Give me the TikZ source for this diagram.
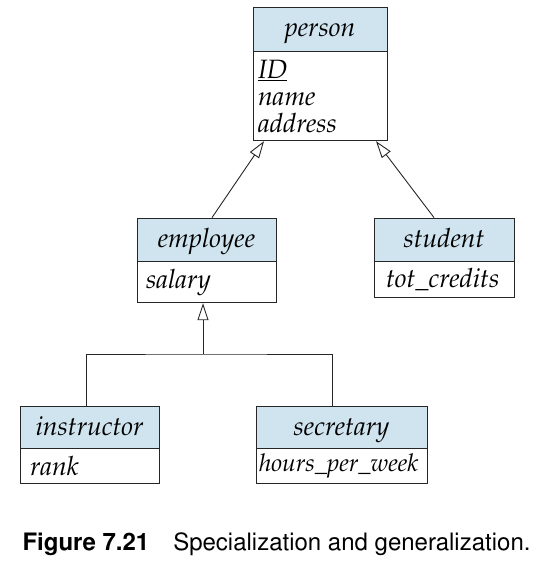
\documentclass[tikz,border=0pt]{standalone}
\usepackage[T1]{fontenc}
\renewcommand{\rmdefault}{ppl}
\renewcommand{\sfdefault}{phv}
\usepackage{tikz}
\usetikzlibrary{arrows.meta}

\definecolor{headblue}{RGB}{208,228,239}
\tikzset{
  entity/.style={draw=black!85, line width=0.8pt, fill=headblue, inner sep=0pt,
    text height=20pt, text depth=4pt, font=\fontsize{26.5}{27}\selectfont\itshape},
  attrs/.style={draw=black!85, line width=0.8pt, fill=white, anchor=north west,
    align=left, inner ysep=0pt, font=\fontsize{26.5}{27}\selectfont\itshape},
  isa/.style={draw=black!85, line width=0.9pt, -{Triangle[open,length=17pt,width=11pt]}},
  link/.style={draw=black!85, line width=0.9pt}
}

\begin{document}
\begin{tikzpicture}[x=1pt,y=-1pt]
    \useasboundingbox (0,0) rectangle (536,561);

    \node[entity, minimum width=134pt, minimum height=44pt] (person) at (320,29) {person};
    \node[attrs, inner xsep=5pt, text width=124pt, minimum height=89pt] (personattr) at (person.south west) {\underline{ID}\\name\\address};

    \node[entity, minimum width=139pt, minimum height=43pt] (employee) at (206.5,239.5) {employee};
    \node[attrs, inner xsep=9pt, text width=121pt, minimum height=41pt] (employeeattr) at (employee.south west) {salary};

    \node[entity, minimum width=140pt, minimum height=43pt] (student) at (444,239.5) {student};
    \node[attrs, inner xsep=12pt, text width=116pt, minimum height=36pt] (studentattr) at (student.south west) {tot\_credits};

    \node[entity, minimum width=139pt, minimum height=42pt] (instructor) at (89.5,427) {instructor};
    \node[attrs, inner xsep=10pt, text width=119pt, minimum height=35pt] (instructorattr) at (instructor.south west) {rank};

    \node[entity, minimum width=171pt, minimum height=42pt] (secretary) at (341.5,427) {secretary};
    \node[attrs, inner xsep=3pt, text width=165pt, minimum height=35pt,
      font=\fontsize{24.5}{27}\selectfont\itshape] (secretaryattr) at (secretary.south west) {hours\_per\_week};

    \draw[isa] ([xshift=5.5pt]employee.north) -- ([xshift=-56pt]personattr.south -| person.south);
    \draw[isa] ([xshift=-10pt]student.north) -- ([xshift=56pt]personattr.south -| person.south);

    \coordinate (split) at (203,354);
    \draw[isa] (split) -- (split |- employeeattr.south);
    \draw[link] ([xshift=-3.5pt]instructor.north) |- (split) -| ([xshift=-9.5pt]secretary.north);

    \node[anchor=base west, font=\fontsize{24}{27}\selectfont\sffamily] (caption) at (19,550)
        {\textbf{Figure 7.21}\quad Specialization and generalization.};
\end{tikzpicture}
\end{document}
